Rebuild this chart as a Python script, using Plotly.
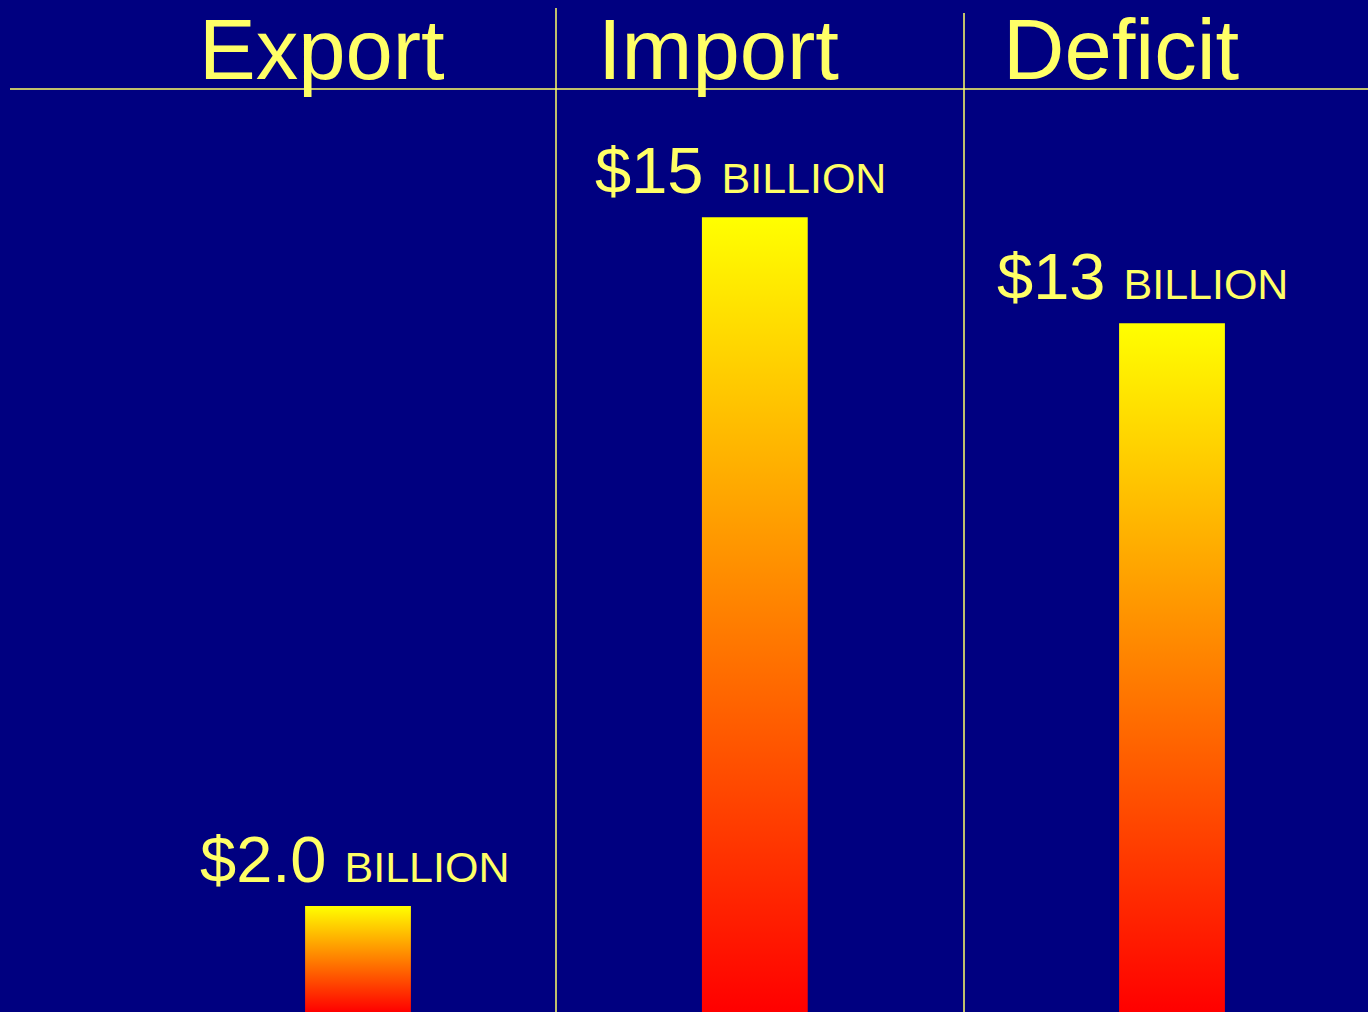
import plotly.graph_objects as go

# Trade balance, in billions of dollars
categories = ["Export", "Import", "Deficit"]
values = [2.0, 15, 13]
value_labels = ["$2.0", "$15", "$13"]
unit_label = "BILLION"

# Layout settings (positions along the x axis, in category units)
bar_pos = [0.0, 0.975, 2.0]
bar_half = 0.13
label_shift = [-4, -14, -30]
header_x = [322, 719, 1121]          # header centres, px
divider_px = [556, 964]
divider_top_px = [8, 13]
W, H = 1368, 1012
Y_MAX = 19.1

BG = "#000080"
TXT = "#FFFF66"
FONT = "Liberation Sans, Arial, sans-serif"

fig = go.Figure()

for cat, v, xc in zip(categories, values, bar_pos):
    fig.add_trace(go.Scatter(
        x=[xc - bar_half, xc + bar_half, xc + bar_half, xc - bar_half, xc - bar_half],
        y=[0, 0, v, v, 0],
        mode="lines",
        line=dict(width=0),
        fill="toself",
        fillgradient=dict(type="vertical",
                          colorscale=[[0, "#FF0000"], [0.5, "#FF8000"], [1, "#FFFF00"]]),
        name=cat,
        hoverinfo="skip",
        showlegend=False,
    ))

# Value labels above each bar
for v, xc, lab, dx in zip(values, bar_pos, value_labels, label_shift):
    fig.add_annotation(
        x=xc, y=v, xref="x", yref="y",
        text=f"{lab} <span style='font-size:43px'>{unit_label}</span>",
        showarrow=False, xanchor="center", yanchor="bottom",
        xshift=dx, yshift=8,
        font=dict(family=FONT, size=65, color=TXT),
    )

# Column headers
for cat, hx in zip(categories, header_x):
    fig.add_annotation(
        x=hx / W, y=1, xref="paper", yref="paper",
        text=cat, showarrow=False, xanchor="center", yanchor="top",
        font=dict(family=FONT, size=85, color=TXT),
    )

# Header rule and column dividers
fig.add_shape(type="line", xref="paper", yref="paper",
              x0=10 / W, x1=1, y0=1 - 89 / H, y1=1 - 89 / H,
              line=dict(color=TXT, width=1.5))
for dpx, top in zip(divider_px, divider_top_px):
    fig.add_shape(type="line", xref="paper", yref="paper",
                  x0=dpx / W, x1=dpx / W, y0=0, y1=1 - top / H,
                  line=dict(color=TXT, width=1.5))

x_lo = (0 - 358) / 407
x_hi = (W - 358) / 407
fig.update_layout(
    width=W, height=H,
    margin=dict(l=0, r=0, t=0, b=0),
    paper_bgcolor=BG, plot_bgcolor=BG,
    xaxis=dict(range=[x_lo, x_hi], visible=False, fixedrange=True),
    yaxis=dict(range=[0, Y_MAX], visible=False, fixedrange=True),
    showlegend=False,
)

fig.write_html("out.html", config={"displayModeBar": False})
